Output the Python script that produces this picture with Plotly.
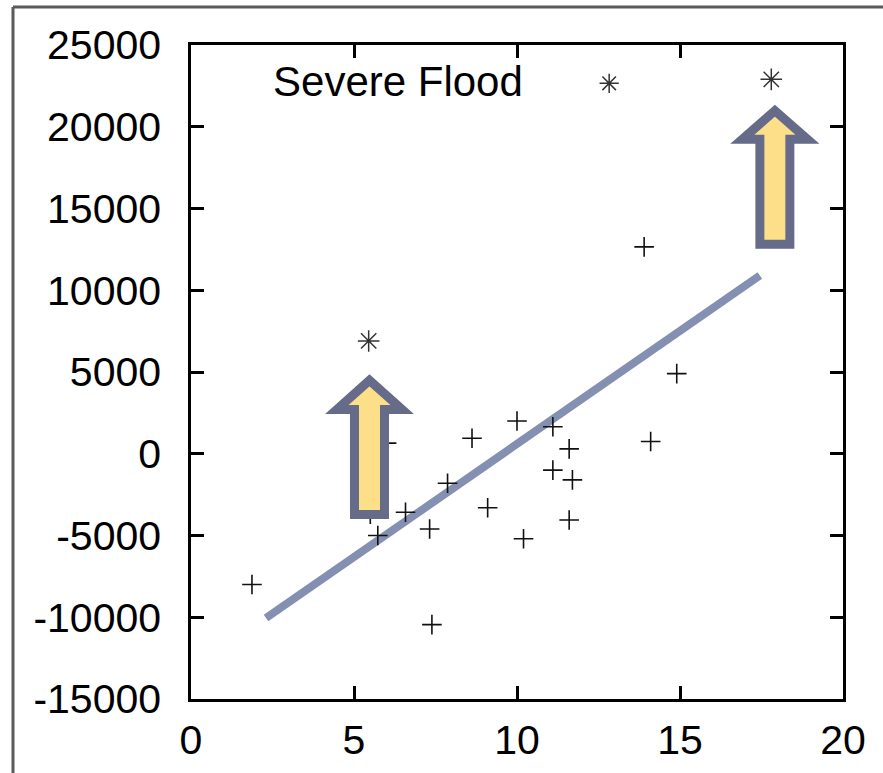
import plotly.graph_objects as go

# ---- data ----
plus_x = [1.87, 7.39, 7.32, 6.58, 7.87, 8.62, 6.0, 5.73, 5.5, 14.9, 10.0, 11.1, 11.6, 14.1,
          11.1, 11.7, 9.1, 11.6, 10.2, 13.9]
plus_y = [-8000, -10450, -4600, -3575, -1800, 950, 650, -5000, -3700, 4900, 2000, 1650, 300, 750,
          -1000, -1600, -3300, -4050, -5200, 12650]

flood_x = [5.45, 17.8]
flood_y = [6900, 22900]

fit_x = [2.3, 17.45]
fit_y = [-10050, 10900]

x_ticks = [0, 5, 10, 15, 20]
y_ticks = [-15000, -10000, -5000, 0, 5000, 10000, 15000, 20000, 25000]
x_tick_text = [str(v) for v in x_ticks]
y_tick_text = [str(v) for v in y_ticks]

legend_label = "Severe Flood"

# arrows: (centre x, bottom y, head-base y, tip y)
arrows = [(5.475, -3715, 2710, 4490), (17.91, 12810, 19235, 20980)]

W, H = 883, 773
ML, MR, MT, MB = 191, 40, 45, 74
FONT = "Liberation Sans, Arial, sans-serif"

fig = go.Figure()

fig.add_trace(go.Scatter(
    x=fit_x, y=fit_y, mode="lines",
    line=dict(color="#8490b1", width=8), showlegend=False, hoverinfo="skip"))

fig.add_trace(go.Scatter(
    x=plus_x, y=plus_y, mode="markers",
    marker=dict(symbol="cross-thin-open", size=14, color="#111111",
                line=dict(color="#111111", width=1.6)),
    showlegend=False))

fig.add_trace(go.Scatter(
    x=flood_x, y=flood_y, mode="markers", name="",
    marker=dict(symbol="asterisk-open", size=18, color="#333333",
                line=dict(color="#333333", width=1.5)),
    showlegend=True))

shapes = []
for cx, yb, yh, yt in arrows:
    hs, hh = 0.46, 1.0
    path = (f"M {cx-hs},{yb} L {cx+hs},{yb} L {cx+hs},{yh} L {cx+hh},{yh} "
            f"L {cx},{yt} L {cx-hh},{yh} L {cx-hs},{yh} Z")
    shapes.append(dict(type="path", xref="x", yref="y", path=path,
                       fillcolor="#fddf8a", line=dict(color="#656b88", width=9),
                       layer="above"))

pw = W - ML - MR
ph = H - MT - MB
left_px, top_px = 13, 7
lx = (left_px - ML) / pw
ty = (H - MB - top_px) / ph
shapes.append(dict(type="line", xref="paper", yref="paper", x0=lx, x1=(W - ML) / pw + 0.01,
                   y0=ty, y1=ty, line=dict(color="#5a5a5a", width=3)))
shapes.append(dict(type="line", xref="paper", yref="paper", x0=lx, x1=lx,
                   y0=ty, y1=-MB / ph - 0.01, line=dict(color="#5a5a5a", width=3)))

axis_common = dict(
    showgrid=False, zeroline=False, showline=True, linecolor="black", linewidth=2.5,
    mirror="ticks", ticks="inside", ticklen=13, tickwidth=2.5, tickcolor="black",
    tickfont=dict(family=FONT, size=41, color="black"), automargin=False,
)

fig.update_layout(
    width=W, height=H,
    margin=dict(l=ML, r=MR, t=MT, b=MB, pad=0, autoexpand=False),
    paper_bgcolor="white", plot_bgcolor="white",
    xaxis=dict(range=[0, 20], tickvals=x_ticks, ticktext=x_tick_text,
               ticklabelstandoff=3, **axis_common),
    yaxis=dict(range=[-15000, 25000], tickvals=y_ticks, ticktext=y_tick_text,
               ticklabelstandoff=19, **axis_common),
    shapes=shapes,
    showlegend=True,
    legend=dict(
        title=dict(text=legend_label + "\u00a0" * 5, side="left",
                   font=dict(family=FONT, size=42, color="black")),
        x=0.681, y=1.005, xanchor="right", yanchor="top",
        bgcolor="rgba(0,0,0,0)", borderwidth=0,
        font=dict(family=FONT, size=54, color="black"),
    ),
)

fig.write_html("out.html")
